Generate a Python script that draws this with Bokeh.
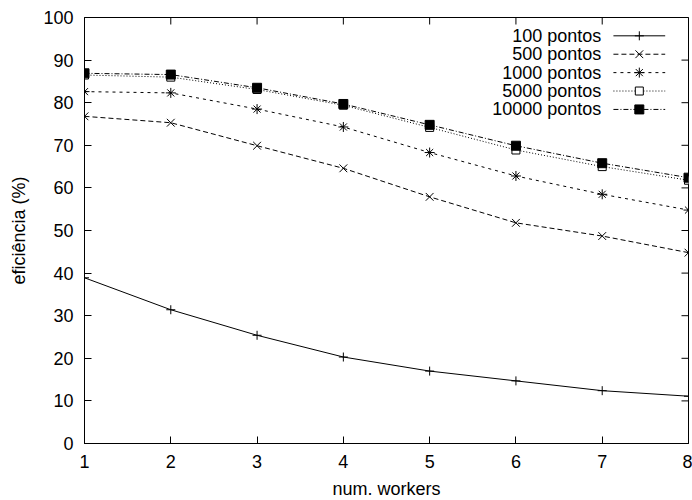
import math
from bokeh.plotting import figure
from bokeh.models import Range1d, FixedTicker, LinearAxis
from bokeh.embed import file_html
from bokeh.resources import INLINE
from bokeh.core.properties import value

# ---- data ----
workers = [1, 2, 3, 4, 5, 6, 7, 8]
series_names = ["100 pontos", "500 pontos", "1000 pontos", "5000 pontos", "10000 pontos"]
eff_100 = [38.9, 31.4, 25.4, 20.3, 17.0, 14.7, 12.4, 11.1]
eff_500 = [76.8, 75.3, 69.9, 64.6, 57.9, 51.8, 48.7, 44.8]
eff_1000 = [82.6, 82.3, 78.5, 74.3, 68.3, 62.8, 58.5, 54.8]
eff_5000 = [86.5, 86.0, 83.1, 79.4, 74.2, 68.9, 65.0, 61.8]
eff_10000 = [86.9, 86.6, 83.5, 79.7, 74.8, 69.9, 65.8, 62.4]
x_ticks = [1, 2, 3, 4, 5, 6, 7, 8]
y_ticks = [0, 10, 20, 30, 40, 50, 60, 70, 80, 90, 100]
x_min, x_max = 1, 8
y_min, y_max = 0, 100

series = [eff_100, eff_500, eff_1000, eff_5000, eff_10000]
dashes = ["solid", "5 3", "3 4", "1 2", "5 2 1 2"]
markers = ["cross", "x", "asterisk", "square", "square"]
msizes = [9, 11, 10, 8, 9]
mfill = [None, None, None, "white", "black"]

FONT = "Liberation Sans"
FS = "18px"

p = figure(frame_width=604, frame_height=426, output_backend="svg", toolbar_location=None,
           x_range=Range1d(x_min, x_max), y_range=Range1d(y_min, y_max),
           min_border_left=84, min_border_right=4, min_border_top=17, min_border_bottom=50,
           x_axis_location=None, y_axis_location=None)
p.grid.visible = False
p.outline_line_color = "black"
p.outline_line_width = 1
p.background_fill_color = "white"
p.border_fill_color = "white"

def mk_axis(ticks, label):
    ax = LinearAxis(ticker=FixedTicker(ticks=ticks))
    ax.major_tick_in = 7
    ax.major_tick_out = 0
    ax.minor_tick_in = 0
    ax.minor_tick_out = 0
    ax.axis_line_color = "black"
    ax.major_tick_line_color = "black"
    ax.major_label_text_font = FONT
    ax.major_label_text_color = "black"
    ax.major_label_text_font_size = FS
    ax.axis_label = label
    ax.axis_label_text_font = FONT
    ax.axis_label_text_font_size = FS
    ax.axis_label_text_font_style = "normal"
    ax.axis_label_text_color = "black"
    return ax

xb = mk_axis(x_ticks, "num. workers")
xb.major_label_standoff = 11
xb.axis_label_standoff = 8
yl = mk_axis(y_ticks, "eficiência (%)")
yl.major_label_standoff = 11
yl.axis_label_standoff = 11
p.add_layout(xb, "below")
p.add_layout(yl, "left")

# mirrored inward ticks on top and right edges (half of each dash is clipped by the frame)
p.scatter(x=x_ticks, y=[y_max] * len(x_ticks), marker="dash", angle=math.pi / 2, size=14,
          line_color="black", line_width=1)
p.scatter(x=[x_max] * len(y_ticks), y=y_ticks, marker="dash", size=14,
          line_color="black", line_width=1)

def draw_marker(xs, ys, i):
    kw = dict(marker=markers[i], size=msizes[i], line_color="black", line_width=1)
    kw["fill_color"] = mfill[i]
    p.scatter(xs, ys, **kw)

for i, ys in enumerate(series):
    p.line(workers, ys, line_color="black", line_width=1, line_dash=dashes[i])
    draw_marker(workers, ys, i)

# gnuplot-style key (text right-aligned, sample to the right)
key_text_x = 6.99
key_line_x0, key_line_x1, key_mark_x = 7.13, 7.73, 7.43
key_y0, key_dy = 95.7, 4.32
for i, name in enumerate(series_names):
    ky = key_y0 - i * key_dy
    p.text(x=[key_text_x], y=[ky], text=[name], text_align="right", text_baseline="middle",
           text_font=value(FONT), text_font_size=FS, text_color="black")
    p.line([key_line_x0, key_line_x1], [ky, ky], line_color="black", line_width=1, line_dash=dashes[i])
    draw_marker([key_mark_x], [ky], i)

open("out.html", "w").write(file_html(p, INLINE))
